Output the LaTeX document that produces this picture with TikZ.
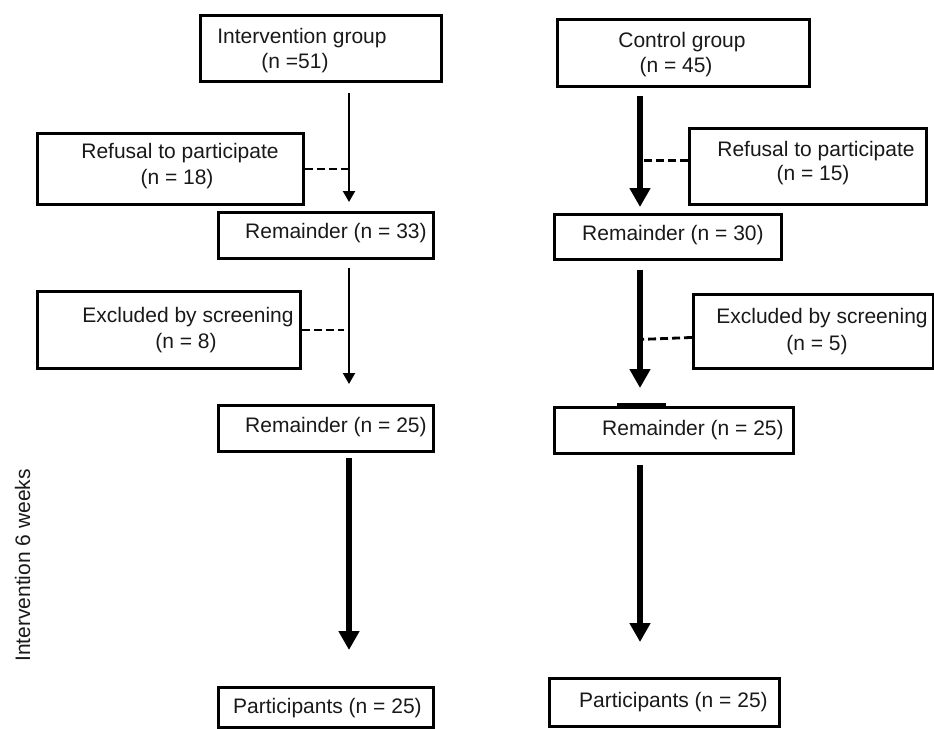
\documentclass[tikz,border=0pt]{standalone}
\usepackage{fontspec}
\setmainfont{Liberation Sans}
\usetikzlibrary{arrows.meta}
\begin{document}
\begin{tikzpicture}[x=1pt,y=-1pt,
  box/.style={draw, line width=2.9pt, inner sep=0pt, rectangle, anchor=north west},
  lbl/.style={font=\fontsize{21}{25}\selectfont, inner sep=0pt, text=black!90},
  thinarr/.style={line width=2.2pt, -{Triangle[width=12pt,length=11pt]}},
  thickarr/.style={line width=6.5pt, -{Triangle[width=20pt,length=19pt]}},
  dashline/.style={line width=2.8pt, dash pattern=on 8pt off 4pt}
]
\useasboundingbox (0,0) rectangle (934,728);

% boxes
\node[box, minimum width=241pt, minimum height=66pt] (b1) at (199,14) {};
\node[box, minimum width=266pt, minimum height=71pt] (r1) at (36,132) {};
\node[box, minimum width=215pt, minimum height=46pt] (m1) at (217,211) {};
\node[box, minimum width=263pt, minimum height=77pt] (e1) at (36,290) {};
\node[box, minimum width=215pt, minimum height=46pt] (m2) at (217,404) {};
\node[box, minimum width=215pt, minimum height=40pt] (p1) at (217,686) {};

\node[box, minimum width=252pt, minimum height=67pt] (b2) at (556,18) {};
\node[box, minimum width=237pt, minimum height=76pt] (r2) at (688,127) {};
\node[box, minimum width=227pt, minimum height=45pt] (m3) at (553,213) {};
\node[box, minimum width=240pt, minimum height=74pt] (e2) at (692,293) {};
\node[box, minimum width=239pt, minimum height=46pt] (m4) at (553,406) {};
\node[box, minimum width=230pt, minimum height=48pt] (p2) at (548,677) {};
\draw[line width=3.6pt] ([xshift=64pt,yshift=0.8pt]m4.north west) -- ([xshift=113pt,yshift=0.8pt]m4.north west);

% texts
\node[lbl, anchor=base] (b1a) at (302,43) {Intervention group};
\node[lbl, anchor=base] (b1b) at (295,68) {(n =51)};
\node[lbl, anchor=base] (r1a) at (180,158) {Refusal to participate};
\node[lbl, anchor=base] (r1b) at (177,184) {(n = 18)};
\node[lbl, anchor=base west] (m1a) at (245,238) {Remainder (n = 33)};
\node[lbl, anchor=base] (e1a) at (188,322) {Excluded by screening};
\node[lbl, anchor=base] (e1b) at (186,348) {(n = 8)};
\node[lbl, anchor=base west] (m2a) at (245,432) {Remainder (n = 25)};
\node[lbl, anchor=base west] (p1a) at (233,713) {Participants (n = 25)};

\node[lbl, anchor=base] (b2a) at (682,47) {Control group};
\node[lbl, anchor=base] (b2b) at (676,72) {(n = 45)};
\node[lbl, anchor=base] (r2a) at (816,156) {Refusal to participate};
\node[lbl, anchor=base] (r2b) at (813,180) {(n = 15)};
\node[lbl, anchor=base west] (m3a) at (582,240) {Remainder (n = 30)};
\node[lbl, anchor=base] (e2a) at (822,323) {Excluded by screening};
\node[lbl, anchor=base] (e2b) at (817,350) {(n = 5)};
\node[lbl, anchor=base west] (m4a) at (602,435) {Remainder (n = 25)};
\node[lbl, anchor=base west] (p2a) at (579,707) {Participants (n = 25)};

\node[lbl, rotate=90, anchor=base west] (side) at (30,662) {Intervention 6 weeks};

% arrows
\coordinate (lx) at (349,0);
\coordinate (rx) at (640,0);
\draw[thinarr, shorten <=10pt, shorten >=9pt] (lx |- b1.south) -- (lx |- m1.north);
\draw[thinarr, shorten <=8pt, shorten >=20pt] (lx |- m1.south) -- (lx |- m2.north);
\draw[thickarr, shorten <=5pt, shorten >=36pt] (lx |- m2.south) -- (lx |- p1.north);

\draw[thickarr, shorten <=8pt, shorten >=6pt] (rx |- b2.south) -- (rx |- m3.north);
\draw[thickarr, shorten <=9pt, shorten >=18pt] (rx |- m3.south) -- (rx |- m4.north);
\draw[thickarr, shorten <=10pt, shorten >=35pt] (rx |- m4.south) -- (rx |- p2.north);

% dashed links
\draw[dashline] (r1.east) -- (lx |- r1.east);
\draw[dashline, shorten >=5pt] (e1.east) -- (lx |- e1.east);
\coordinate (r2d) at ([yshift=6pt]r2.west);
\draw[dashline] (r2d) -- (rx |- r2d);
\coordinate (e2d) at ([yshift=-6pt]e2.west);
\coordinate (e2f) at ([yshift=-2pt]rx |- e2d);
\draw[dashline] (e2d) -- (e2f);
\end{tikzpicture}
\end{document}
